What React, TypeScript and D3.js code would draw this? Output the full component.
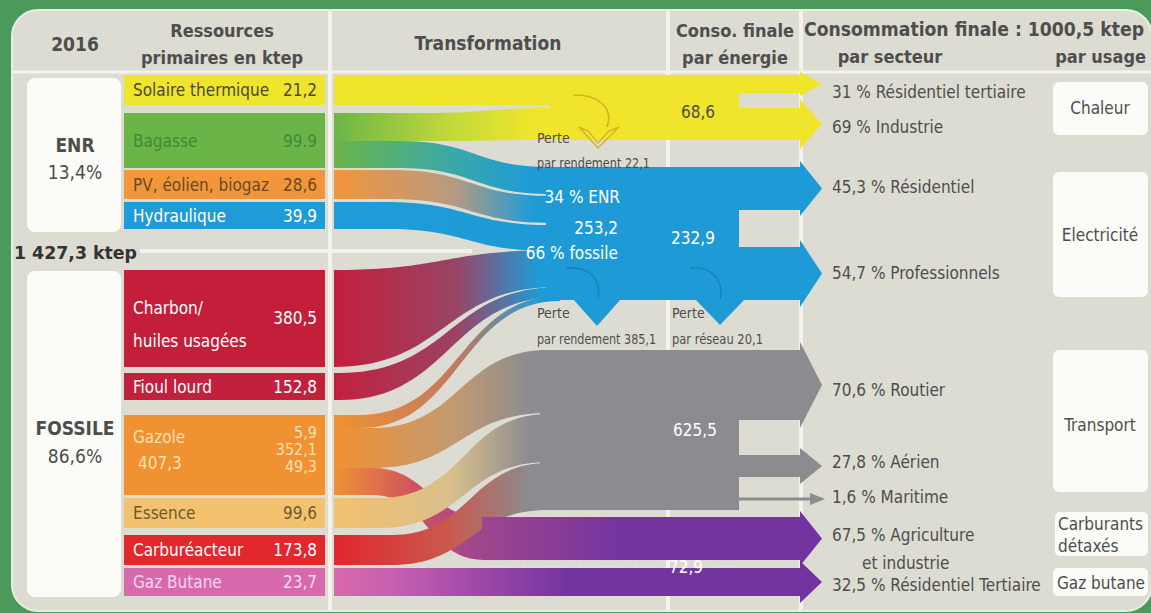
import React, { useEffect } from "react";
import * as d3 from "d3";

// ---------------- DATA ----------------
const YEAR = "2016";
const TOTAL_PRIMARY = "1 427,3 ktep";
const TOTAL_FINAL = "1000,5 ktep";
const groupNames = ["ENR", "FOSSILE"];
const groupShares = ["13,4%", "86,6%"];

const sourceNames = [
  "Solaire thermique", "Bagasse", "PV, éolien, biogaz", "Hydraulique",
  "Charbon/|huiles usagées", "Fioul lourd", "Gazole", "Essence", "Carburéacteur", "Gaz Butane",
];
const sourceValues = [21.2, 99.9, 28.6, 39.9, 380.5, 152.8, 407.3, 99.6, 173.8, 23.7];
const sourceValueText = ["21,2", "99.9", "28,6", "39,9", "380,5", "152,8", "407,3", "99,6", "173,8", "23,7"];
const gazoleSplit = ["5,9", "352,1", "49,3"];

const energyNames = ["Chaleur", "Electricité", "Transport", "Carburants détaxés", "Gaz butane"];
const energyValueText = ["68,6", "232,9", "625,5", "72,9"];
const elecMix = ["34 % ENR", "253,2", "66 % fossile"];
const lossTitle = "Perte";
const lossLabels = ["par rendement 22,1", "par rendement 385,1", "par réseau 20,1"];

const sectorLabels = [
  "31 % Résidentiel  tertiaire", "69 % Industrie", "45,3 % Résidentiel", "54,7 % Professionnels",
  "70,6 % Routier", "27,8 % Aérien", "1,6 % Maritime", "67,5 % Agriculture", "et industrie",
  "32,5 % Résidentiel Tertiaire",
];
const usageLabels = ["Chaleur", "Electricité", "Transport", "Carburants|détaxés", "Gaz butane"];

// flows: source index -> energy index, value (ktep)
const flowSource = [0, 1, 1, 2, 3, 4, 5, 6, 6, 6, 7, 8, 9];
const flowTarget = [0, 0, 1, 1, 1, 1, 1, 1, 2, 3, 2, 2, 4];
const flowValue = [21.2, 69.5, 30.4, 28.6, 39.9, 380.5, 152.8, 5.9, 352.1, 49.3, 99.6, 173.8, 23.7];

// ---------------- LAYOUT / STYLE ----------------
const W = 1151, H = 613;
const FONT = "'DejaVu Sans Condensed', 'DejaVu Sans', 'Liberation Sans Narrow', sans-serif";
const C = {
  green: "#4b9a5b", panel: "#dcdcd2", white: "#fbfbf8", text: "#4e4e4e", line: "#f3f3ec",
  yellow: "#f0e52a", elec: "#1e9bd7", transport: "#8b8c8f", purple: "#7434a0",
};
const sourceColors = ["#efe52c", "#6bb548", "#f2963b", "#1f9bd7", "#c31f3b", "#c2213d", "#f09132", "#f3c26e", "#e2272d", "#d76aad"];
const sourceTextColors = ["#4a4a32", "#3f8a37", "#6b4a22", "#ffffff", "#ffffff", "#ffffff", "#fbe0b4", "#6e5a2e", "#ffffff", "#f8d6ec"];
const energyColors = [C.yellow, C.elec, C.transport, "#7c3a9c", C.purple];

// vertical extent of each source row (pixels)
const rowSpan: [number, number][] = [
  [75, 105], [113, 168], [170, 199], [202, 229], [270, 367], [373, 400], [415, 495], [498, 528], [535, 565], [568, 596],
];
// per-flow geometry: source span, target span, bend start x, end x
const flowGeom = [
  { s: [75, 105], t: [75, 105], xb: 334, xe: 552 },
  { s: [113, 141], t: [108, 140], xb: 420, xe: 552 },
  { s: [141, 168], t: [167, 194], xb: 400, xe: 550 },
  { s: [170, 199], t: [196, 223], xb: 392, xe: 550 },
  { s: [202, 229], t: [225, 251], xb: 386, xe: 550 },
  { s: [270, 367], t: [250, 287], xb: 334, xe: 556 },
  { s: [373, 400], t: [287, 297], xb: 340, xe: 560 },
  { s: [415, 428], t: [296, 301], xb: 360, xe: 560 },
  { s: [428, 468], t: [350, 413], xb: 372, xe: 548 },
  { s: [468, 495], t: [517, 560], xb: 372, xe: 484 },
  { s: [498, 528], t: [414, 462], xb: 380, xe: 548 },
  { s: [535, 565], t: [463, 510], xb: 392, xe: 548 },
  { s: [568, 596], t: [568, 596], xb: 334, xe: 802 },
];
const flowMid = [
  null, "#c5da3a", "#3aa8a8", "#b89a80", null, "#9a4466", "#9a4466", "#c07a60", "#c49a70", "#cf5262", "#d8bf8c", "#c85a50", "#a04aa8",
];

const X0 = 334;

function band(x0: number, xb: number, xe: number, s: number[], t: number[]) {
  const p = d3.path();
  const xm = (xb + xe) / 2;
  p.moveTo(x0, s[0]);
  p.lineTo(xb, s[0]);
  p.bezierCurveTo(xm, s[0], xm, t[0], xe, t[0]);
  p.lineTo(xe, t[1]);
  p.bezierCurveTo(xm, t[1], xm, s[1], xb, s[1]);
  p.lineTo(x0, s[1]);
  p.closePath();
  return p.toString();
}

function arrow(x0: number, xb: number, xt: number, y0: number, y1: number, ext: number) {
  const ym = (y0 + y1) / 2;
  const pts: [number, number][] = [[x0, y0], [xb, y0], [xb, y0 - ext], [xt, ym], [xb, y1 + ext], [xb, y1], [x0, y1]];
  return d3.line()(pts) + "Z";
}

const T = (props: any) => <text fontFamily={FONT} fill={C.text} fontSize={17} {...props} />;

export default function App() {
  useEffect(() => {
    document.body.style.margin = "0";
  }, []);

  const xBlockEnd = 738, xBody = 800, xTip = 822;

  return (
    <svg width={W} height={H} style={{ display: "block", fontStretch: "condensed" }}>
      <defs>
        {flowGeom.map((g, i) => {
          const c0 = sourceColors[flowSource[i]];
          const c1 = energyColors[flowTarget[i]];
          const mid = flowMid[i];
          return (
            <linearGradient key={i} id={`fg${i}`} gradientUnits="userSpaceOnUse" x1={X0} x2={g.xe} y1={0} y2={0}>
              <stop offset="0" stopColor={c0} />
              {i === 12 ? <stop offset="0.12" stopColor="#c860b0" /> : null}
              {mid ? <stop offset={i === 12 ? "0.3" : "0.55"} stopColor={mid} /> : null}
              <stop offset={i === 12 ? "0.5" : "0.92"} stopColor={i === 9 ? "#a0468c" : c1} />
              <stop offset="1" stopColor={i === 9 ? "#a0468c" : c1} />
            </linearGradient>
          );
        })}
        <linearGradient id="purpleBlock" gradientUnits="userSpaceOnUse" x1={478} x2={620} y1={0} y2={0}>
          <stop offset="0" stopColor="#a0468c" />
          <stop offset="1" stopColor={C.purple} />
        </linearGradient>
      </defs>

      {/* background */}
      <rect x={0} y={0} width={W} height={H} fill={C.green} />
      <rect x={12} y={10} width={1140} height={601} rx={26} fill={C.panel} stroke="#e6efe0" strokeWidth={2} />

      {/* grid lines */}
      <line x1={13} x2={1151} y1={72} y2={72} stroke={C.line} strokeWidth={3} />
      {[330, 668, 801].map((x) => (
        <line key={x} x1={x} x2={x} y1={11} y2={610} stroke={C.line} strokeWidth={4} />
      ))}
      <line x1={140} x2={472} y1={251} y2={251} stroke={C.line} strokeWidth={4} />

      {/* headers */}
      <T x={75} y={51} textAnchor="middle" fontWeight="bold" fontSize={19}>{YEAR}</T>
      <T x={222} y={37} textAnchor="middle" fontWeight="bold" fontSize={18}>Ressources</T>
      <T x={222} y={64} textAnchor="middle" fontWeight="bold" fontSize={18}>primaires en ktep</T>
      <T x={488} y={50} textAnchor="middle" fontWeight="bold" fontSize={19}>Transformation</T>
      <T x={735} y={37} textAnchor="middle" fontWeight="bold" fontSize={18}>Conso. finale</T>
      <T x={735} y={64} textAnchor="middle" fontWeight="bold" fontSize={18}>par énergie</T>
      <T x={804} y={36} fontWeight="bold" fontSize={19} textLength={340} lengthAdjust="spacingAndGlyphs">{`Consommation finale : ${TOTAL_FINAL}`}</T>
      <T x={890} y={63} textAnchor="middle" fontWeight="bold" fontSize={18}>par secteur</T>
      <T x={1146} y={63} textAnchor="end" fontWeight="bold" fontSize={18}>par usage</T>

      {/* group boxes */}
      <rect x={27} y={78} width={94} height={154} rx={8} fill={C.white} />
      <rect x={27} y={271} width={94} height={326} rx={8} fill={C.white} />
      <T x={75} y={152} textAnchor="middle" fontWeight="bold" fontSize={19}>{groupNames[0]}</T>
      <T x={75} y={179} textAnchor="middle" fontSize={19}>{groupShares[0]}</T>
      <T x={75} y={435} textAnchor="middle" fontWeight="bold" fontSize={19}>{groupNames[1]}</T>
      <T x={75} y={463} textAnchor="middle" fontSize={19}>{groupShares[1]}</T>
      <T x={14} y={259} fontWeight="bold" fontSize={18} fill="#333" textLength={123} lengthAdjust="spacingAndGlyphs">{TOTAL_PRIMARY}</T>

      {/* source bars */}
      {rowSpan.map((r, i) => (
        <rect key={i} x={124} y={r[0]} width={201} height={r[1] - r[0]} fill={sourceColors[i]} />
      ))}

      {/* flows */}
      {[0, 1, 2, 3, 4, 5, 6, 7, 9, 8, 10, 11, 12].map((i) => {
        const g = flowGeom[i];
        return <path key={i} d={band(X0, g.xb, g.xe, g.s, g.t)} fill={`url(#fg${i})`} />;
      })}

      {/* energy blocks with arrows */}
      <rect x={550} y={75} width={xBlockEnd - 550 + 1} height={65} fill={C.yellow} />
      <path d={arrow(xBlockEnd, xBody, xTip, 75, 93, 3)} fill={C.yellow} />
      <path d={arrow(xBlockEnd, xBody, xTip, 108, 140, 9)} fill={C.yellow} />
      <rect x={546} y={167} width={xBlockEnd - 546 + 1} height={133} fill={C.elec} />
      <path d={arrow(xBlockEnd, xBody, xTip, 167, 210, 6)} fill={C.elec} />
      <path d={arrow(xBlockEnd, xBody, xTip, 247, 300, 7)} fill={C.elec} />
      <rect x={540} y={350} width={xBlockEnd - 540 + 1} height={160} fill={C.transport} />
      <path d={arrow(xBlockEnd, xBody, xTip, 350, 420, 8)} fill={C.transport} />
      <path d={arrow(xBlockEnd, xBody, xTip, 455, 477, 7)} fill={C.transport} />
      <line x1={xBlockEnd} x2={812} y1={499} y2={499} stroke={C.transport} strokeWidth={3} />
      <path d={d3.line()([[810, 493], [825, 499], [810, 505]]) + "Z"} fill={C.transport} />
      <path d={arrow(482, xBody, xTip, 517, 560, 6)} fill="url(#purpleBlock)" />
      <path d={arrow(798, xBody, xTip, 568, 596, 7)} fill={C.purple} />

      {/* loss arrows */}
      <path d="M573,95 C598,94 614,108 607,127" fill="none" stroke="#d8b020" strokeWidth={1.6} />
      <path d="M579,127 L598,148 L619,127 L609,131 L598,143 L588,131 Z" fill="none" stroke="#d8b020" strokeWidth={1.4} />
      <path d="M566,268 C590,266 602,280 598,300" fill="none" stroke="#1684be" strokeWidth={1.5} />
      <path d="M690,268 C714,266 724,282 720,300" fill="none" stroke="#1684be" strokeWidth={1.5} />
      <path d={d3.line()([[573, 299], [621, 299], [597, 326]]) + "Z"} fill={C.elec} />
      <path d={d3.line()([[695, 299], [745, 299], [720, 325]]) + "Z"} fill={C.elec} />

      {/* loss labels */}
      <T x={537} y={143} fontSize={14}>{lossTitle}</T>
      <T x={537} y={168} fontSize={14} textLength={113} lengthAdjust="spacingAndGlyphs">{lossLabels[0]}</T>
      <T x={537} y={318} fontSize={14}>{lossTitle}</T>
      <T x={537} y={344} fontSize={14} textLength={119} lengthAdjust="spacingAndGlyphs">{lossLabels[1]}</T>
      <T x={672} y={318} fontSize={14}>{lossTitle}</T>
      <T x={672} y={344} fontSize={14} textLength={91} lengthAdjust="spacingAndGlyphs">{lossLabels[2]}</T>

      {/* dashed line for 72,9 */}
      <line x1={480} x2={658} y1={566} y2={566} stroke="#e8e4ee" strokeWidth={1.2} strokeDasharray="4 3" />
      <line x1={712} x2={740} y1={566} y2={566} stroke="#e8e4ee" strokeWidth={1.2} strokeDasharray="4 3" />

      {/* block values */}
      <T x={698} y={118} textAnchor="middle">{energyValueText[0]}</T>
      <T x={620} y={203} textAnchor="end" fill="#fff">{elecMix[0]}</T>
      <T x={618} y={234} textAnchor="end" fill="#fff">{elecMix[1]}</T>
      <T x={618} y={259} textAnchor="end" fill="#fff">{elecMix[2]}</T>
      <T x={693} y={244} textAnchor="middle" fill="#fff">{energyValueText[1]}</T>
      <T x={695} y={436} textAnchor="middle" fill="#fff">{energyValueText[2]}</T>
      <T x={686} y={573} textAnchor="middle" fill="#fff">{energyValueText[3]}</T>

      {/* source labels */}
      {sourceNames.map((n, i) => {
        const r = rowSpan[i];
        const cy = (r[0] + r[1]) / 2;
        const col = sourceTextColors[i];
        if (i === 4) {
          const parts = n.split("|");
          return (
            <g key={i}>
              <T x={133} y={314} fill={col}>{parts[0]}</T>
              <T x={133} y={347} fill={col}>{parts[1]}</T>
              <T x={317} y={324} fill={col} textAnchor="end">{sourceValueText[i]}</T>
            </g>
          );
        }
        if (i === 6) {
          return (
            <g key={i}>
              <T x={133} y={443} fill={col}>{n}</T>
              <T x={138} y={469} fill={col}>{sourceValueText[i]}</T>
              {gazoleSplit.map((v, k) => (
                <T key={k} x={317} y={438 + k * 17} fill={col} textAnchor="end" fontSize={16}>{v}</T>
              ))}
            </g>
          );
        }
        return (
          <g key={i}>
            <T x={133} y={cy + 6} fill={col}>{n}</T>
            <T x={317} y={cy + 6} fill={col} textAnchor="end">{sourceValueText[i]}</T>
          </g>
        );
      })}

      {/* sector labels */}
      {[98, 133, 193, 279, 396, 468, 503, 541, 569, 591].map((y, i) => (
        <T key={i} x={i === 8 ? 862 : 832} y={y}>{sectorLabels[i]}</T>
      ))}

      {/* usage boxes */}
      <rect x={1053} y={82} width={95} height={53} rx={6} fill={C.white} />
      <rect x={1053} y={172} width={95} height={125} rx={6} fill={C.white} />
      <rect x={1053} y={350} width={95} height={142} rx={6} fill={C.white} />
      <rect x={1055} y={512} width={93} height={44} rx={5} fill={C.white} />
      <rect x={1053} y={568} width={95} height={28} rx={5} fill={C.white} />
      <T x={1100} y={114} textAnchor="middle">{usageLabels[0]}</T>
      <T x={1100} y={241} textAnchor="middle">{usageLabels[1]}</T>
      <T x={1100} y={431} textAnchor="middle">{usageLabels[2]}</T>
      <T x={1058} y={530}>{usageLabels[3].split("|")[0]}</T>
      <T x={1058} y={552}>{usageLabels[3].split("|")[1]}</T>
      <T x={1101} y={589} textAnchor="middle">{usageLabels[4]}</T>
    </svg>
  );
}
